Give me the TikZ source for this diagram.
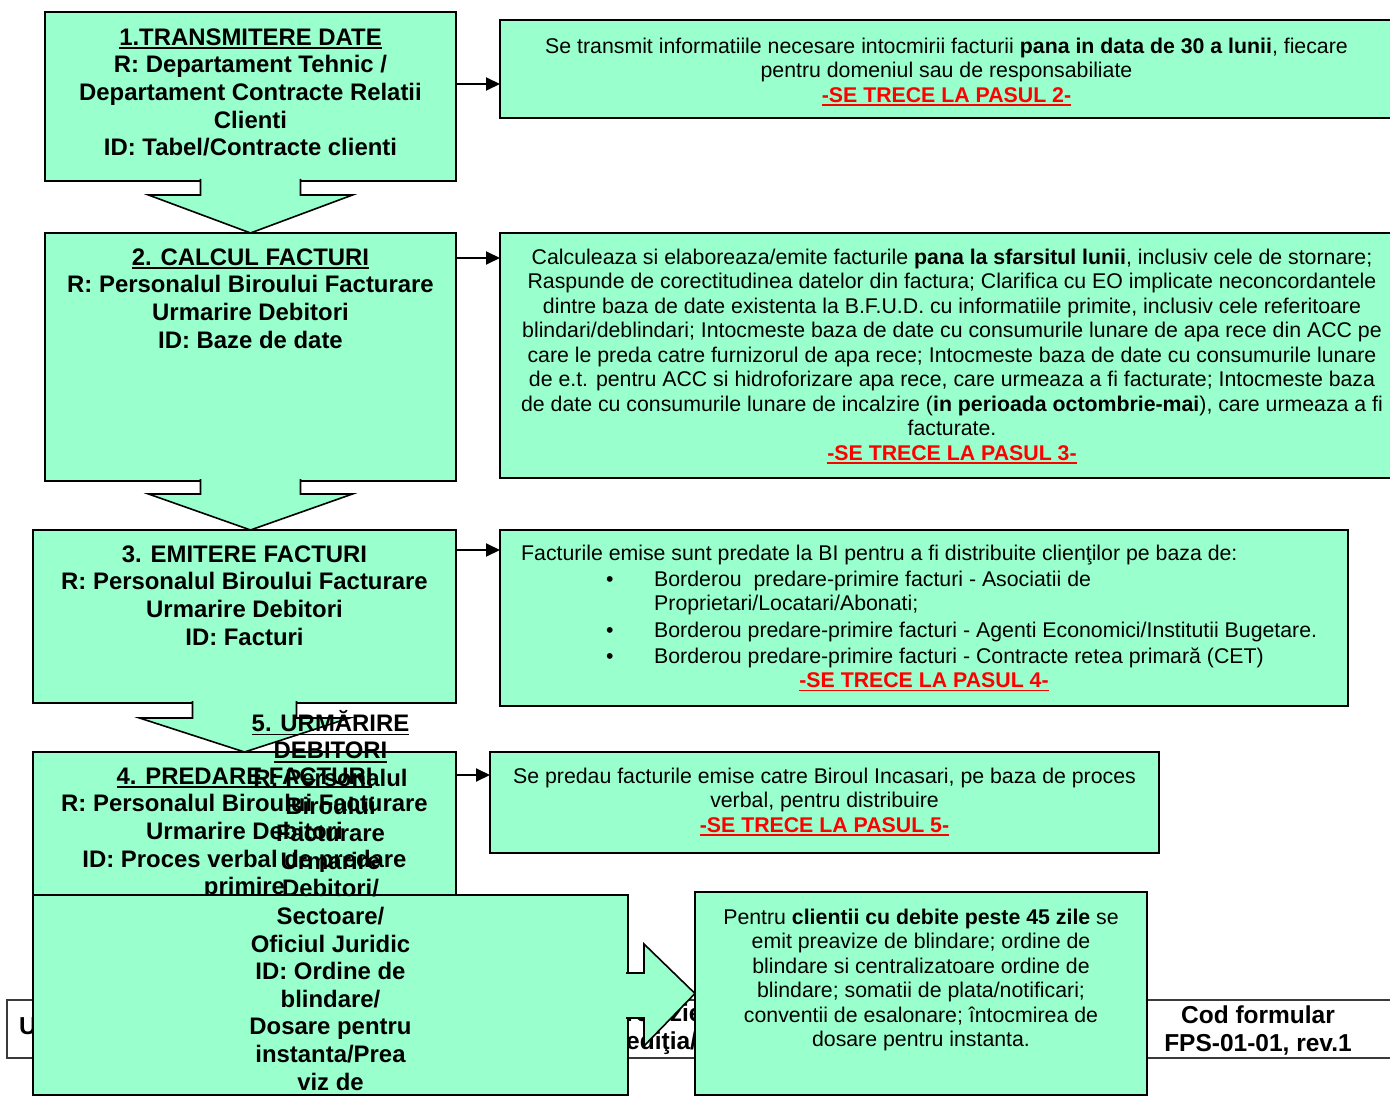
\documentclass[tikz,border=0pt]{standalone}
\usepackage{fontspec}
\setmainfont{Liberation Sans}
\usetikzlibrary{arrows.meta,calc}

\definecolor{mint}{HTML}{99FFCC}
\definecolor{tablegray}{HTML}{3A3A3A}

\newsavebox{\ulbox}
\newcommand{\stepul}[1]{\sbox{\ulbox}{#1}\rlap{\rule[-4pt]{\wd\ulbox}{1.8pt}}\usebox{\ulbox}}
\newcommand{\pasul}[1]{{\color{red}\bfseries\stepul{-SE TRECE LA PASUL #1-}}}
\newcommand{\bul}{\hspace*{85pt}\makebox[48pt][l]{\textbullet}}

\tikzset{
  stepbox/.style={draw=black,line width=2pt,fill=mint,inner sep=0pt,outer sep=0pt},
  bigarrow/.style={draw=black,line width=1.6pt,fill=mint,line join=miter},
  link/.style={line width=2pt,-{Triangle[length=14pt,width=13pt]}},
  steptext/.style={font=\bfseries\fontsize{23.9}{27.6}\selectfont,align=center,inner sep=0pt,anchor=north},
  infotext/.style={font=\fontsize{21.3}{24.5}\selectfont,align=center,inner sep=0pt,anchor=north},
  foottext/.style={font=\bfseries\fontsize{24.5}{28}\selectfont,align=center,inner sep=0pt,anchor=north},
}

\begin{document}
\begin{tikzpicture}[x=1pt,y=-1pt]
  \useasboundingbox[fill=white] (0,0) rectangle (1390,1097);

  % footer table (mostly hidden)
  \draw[tablegray,line width=1.5pt,fill=white] (7,1000) rectangle (1400,1058);
  \node[foottext,anchor=north west] (unit) at (19,1017) {Unitatea};
  \node[foottext,anchor=north west,align=left] (editia) at (626,1004) {revizie\\ediţia/revizia};
  \node[foottext] (cod) at (1258,1006) {Cod formular\\FPS-01-01, rev.1};

  % steps 1-4
  \node[stepbox,minimum width=411pt,minimum height=169pt] (trans) at (250.5,96.5) {};
  \node[steptext] (transtxt) at ($(trans.north)+(0,16.4)$)
    {\stepul{1.TRANSMITERE DATE}\\R: Departament Tehnic /\\Departament Contracte Relatii\\Clienti\\ID: Tabel/Contracte clienti};

  \node[stepbox,minimum width=411pt,minimum height=248pt] (calc) at (250.5,357) {};
  \node[steptext] (calctxt) at ($(calc.north)+(0,15.4)$)
    {\stepul{2. CALCUL FACTURI}\\R: Personalul Biroului Facturare\\Urmarire Debitori\\ID: Baze de date};

  \node[stepbox,minimum width=423pt,minimum height=173pt] (emit) at (244.5,616.5) {};
  \node[steptext] (emittxt) at ($(emit.north)+(0,15.4)$)
    {3. EMITERE FACTURI\\R: Personalul Biroului Facturare\\Urmarire Debitori\\ID: Facturi};

  \node[stepbox,minimum width=423pt,minimum height=160pt] (predare) at (244.5,832) {};
  \node[steptext] (predaretxt) at ($(predare.north)+(0,15.4)$)
    {\stepul{4. PREDARE FACTURI}\\R: Personalul Biroului Facturare\\Urmarire Debitori\\ID: Proces verbal de predare\\primire};

  % big arrows between steps
  \draw[bigarrow] ($(trans.south)+(-50,-2)$) -- ++(0,16) -- ++(-52,0) -- (calc.north -| trans.south)
    -- ($(trans.south)+(102,14)$) -- ++(-52,0) -- ++(0,-16);
  \draw[bigarrow] ($(calc.south)+(-50,-2)$) -- ++(0,15) -- ++(-52,0) -- (emit.north -| calc.south)
    -- ($(calc.south)+(102,13)$) -- ++(-52,0) -- ++(0,-15);
  \draw[bigarrow] ($(emit.south)+(-52,-2)$) -- ++(0,17) -- ++(-53,0) -- (predare.north)
    -- ($(emit.south)+(105,15)$) -- ++(-53,0) -- ++(0,-17);

  % step 5
  \node[stepbox,minimum width=595pt,minimum height=200pt] (debit) at (330.5,995) {};
  \node[steptext] (debittxt) at ($(debit.north)+(0,-185)$)
    {\stepul{5. URMĂRIRE}\\\stepul{DEBITORI}\\R: Personalul\\Biroului\\Facturare\\Urmarire\\Debitori/\\Sectoare/\\Oficiul Juridic\\ID: Ordine de\\blindare/\\Dosare pentru\\instanta/Prea\\viz de};

  \node[stepbox,minimum width=452pt,minimum height=203pt] (rez) at (921,993.5) {};
  \draw[bigarrow] ($(debit.east)+(-2,-22)$) -- ++(18,0) -- ++(0,-29) -- (rez.west)
    -- ($(debit.east)+(16,51)$) -- ++(0,-28) -- ++(-18,0);
  \draw[line width=2pt] (rez.north west) -- (rez.south west);
  \node[infotext] (reztxt) at ($(rez.north)+(0,16.4)$)
    {Pentru \textbf{clientii cu debite peste 45 zile} se\\emit preavize de blindare; ordine de\\blindare si centralizatoare ordine de\\blindare; somatii de plata/notificari;\\conventii de esalonare; întocmirea de\\dosare pentru instanta.};

  % descriptions on the right
  \node[stepbox,minimum width=893pt,minimum height=98pt] (info1) at (946.5,69) {};
  \node[infotext] (info1txt) at ($(info1.north)+(0,17.4)$)
    {Se transmit informatiile necesare intocmirii facturii \textbf{pana in data de 30 a lunii}, fiecare\\pentru domeniul sau de responsabiliate\\\pasul{2}};

  \node[stepbox,minimum width=904pt,minimum height=245pt] (info2) at (952,355.5) {};
  \node[infotext] (info2txt) at ($(info2.north)+(0,15.4)$)
    {Calculeaza si elaboreaza/emite facturile \textbf{pana la sfarsitul lunii}, inclusiv cele de stornare;\\
     Raspunde de corectitudinea datelor din factura; Clarifica cu EO implicate neconcordantele\\
     dintre baza de date existenta la B.F.U.D. cu informatiile primite, inclusiv cele referitoare\\
     blindari/deblindari; Intocmeste baza de date cu consumurile lunare de apa rece din ACC pe\\
     care le preda catre furnizorul de apa rece; Intocmeste baza de date cu consumurile lunare\\
     de e.t. pentru ACC si hidroforizare apa rece, care urmeaza a fi facturate; Intocmeste baza\\
     de date cu consumurile lunare de incalzire (\textbf{in perioada octombrie-mai}), care urmeaza a fi\\
     facturate.\\\pasul{3}};

  \node[stepbox,minimum width=848pt,minimum height=176pt] (info3) at (924,618) {};
  \node[infotext,anchor=north west,align=left] (info3txt) at ($(info3.north west)+(21,14.4)$)
    {Facturile emise sunt predate la BI pentru a fi distribuite clienţilor pe baza de:\\[1.5pt]
     \bul Borderou\ \ predare-primire facturi - Asociatii de\\
     \hspace*{133pt}Proprietari/Locatari/Abonati;\\[2.5pt]
     \bul Borderou predare-primire facturi - Agenti Economici/Institutii Bugetare.\\[1.5pt]
     \bul Borderou predare-primire facturi - Contracte retea primară (CET)};
  \node[infotext] (info3red) at ($(info3.north)+(0,142.4)$) {\pasul{4}};

  \node[stepbox,minimum width=669pt,minimum height=101pt] (info4) at (824.5,802.5) {};
  \node[infotext] (info4txt) at ($(info4.north)+(0,15.4)$)
    {Se predau facturile emise catre Biroul Incasari, pe baza de proces\\verbal, pentru distribuire\\\pasul{5}};

  % links step -> description
  \draw[link] ($(trans.north east)+(0,72)$) -- ($(info1.north west)+(0,64)$);
  \draw[link] ($(calc.north east)+(0,25)$) -- ($(info2.north west)+(0,25)$);
  \draw[link] ($(emit.north east)+(0,20)$) -- ($(info3.north west)+(0,20)$);
  \draw[link] ($(predare.north east)+(0,23)$) -- ($(info4.north west)+(0,23)$);

\end{tikzpicture}
\end{document}
